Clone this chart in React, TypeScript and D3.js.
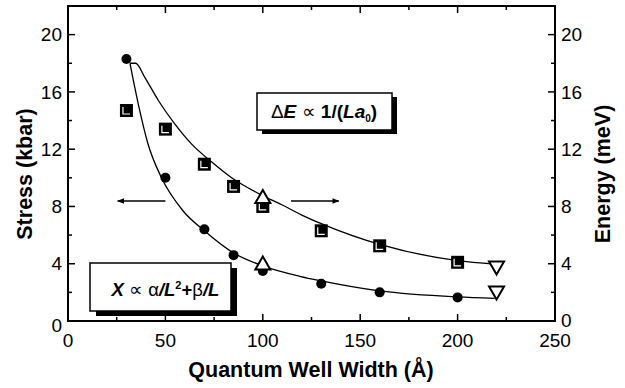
import React from "react";
import * as d3 from "d3";

// measured points (well width in Å)
const widths = [30, 50, 70, 85, 100, 130, 160, 200];
const stress = [18.3, 10.0, 6.4, 4.6, 3.5, 2.6, 2.0, 1.65];
const energy = [14.7, 13.4, 10.95, 9.4, 8.0, 6.3, 5.25, 4.1];

// open triangles
const triUpX = [100, 100];
const triUpY = [8.7, 4.05];
const triDownX = [220, 220];
const triDownY = [3.7, 1.95];

// fitted curves
const lowerFitX = [31.8, 36, 41, 48, 59, 70, 85, 100, 119, 130, 160, 200, 219];
const lowerFitY = [18.0, 15.2, 12.4, 10.0, 7.7, 6.3, 4.75, 3.85, 3.12, 2.8, 2.1, 1.68, 1.58];
const upperFitX = [31.8, 34.7, 39.5, 46.4, 54.9, 63.5, 73.8, 84, 100, 110, 120, 130, 160, 200, 219];
const upperFitY = [18.0, 18.0, 17.0, 15.4, 13.75, 12.35, 11.1, 10.0, 8.75, 8.1, 7.4, 6.8, 5.35, 4.22, 3.98];

const xMajor = [0, 50, 100, 150, 200, 250];
const yMajor = [0, 4, 8, 12, 16, 20];

const W = 625;
const H = 388;
const FONT = "'Liberation Sans', Arial, sans-serif";

export default function App() {
  const x = d3.scaleLinear().domain([0, 250]).range([68, 555]);
  const y = d3.scaleLinear().domain([0, 22]).range([321, 6]);
  const [x0, x1] = x.range();
  const [y0, y1] = y.range();

  const xMinor = d3.range(0, 251, 25);
  const yMinor = d3.range(0, 22.1, 2);

  const line = d3
    .line<[number, number]>()
    .x((d) => x(d[0]))
    .y((d) => y(d[1]))
    .curve(d3.curveMonotoneX);

  const lower = line(lowerFitX.map((v, i) => [v, lowerFitY[i]]) as [number, number][]);
  const upper = line(upperFitX.map((v, i) => [v, upperFitY[i]]) as [number, number][]);

  const tri = (cx: number, cy: number, up: boolean) => {
    const s = 7.5;
    const h = 6.5;
    return up
      ? `M${cx},${cy - h} L${cx + s},${cy + h} L${cx - s},${cy + h} Z`
      : `M${cx},${cy + h} L${cx + s},${cy - h} L${cx - s},${cy - h} Z`;
  };

  const arrowY = 201;

  return (
    <svg
      width={W}
      height={H}
      style={{ position: "absolute", left: 0, top: 0, background: "#fff" }}
      fontFamily={FONT}
    >
      <defs>
        <marker id="ah" viewBox="0 0 10 10" refX="9" refY="5" markerWidth="10" markerHeight="7" orient="auto-start-reverse" markerUnits="userSpaceOnUse">
          <path d="M0,1 L10,5 L0,9 Z" fill="#000" />
        </marker>
      </defs>

      {/* frame */}
      <rect x={x0} y={y1} width={x1 - x0} height={y0 - y1} fill="none" stroke="#000" strokeWidth={2} />

      {/* x ticks, bottom and top, inward */}
      {xMinor.map((v) => {
        const len = v % 50 === 0 ? 7 : 4;
        return (
          <g key={"xt" + v} stroke="#000" strokeWidth={1.5}>
            <line x1={x(v)} x2={x(v)} y1={y0} y2={y0 - len} />
            <line x1={x(v)} x2={x(v)} y1={y1} y2={y1 + len} />
          </g>
        );
      })}
      {/* y ticks, left and right, inward */}
      {yMinor.map((v) => {
        const len = v % 4 === 0 ? 7 : 4;
        return (
          <g key={"yt" + v} stroke="#000" strokeWidth={1.5}>
            <line x1={x0} x2={x0 + len} y1={y(v)} y2={y(v)} />
            <line x1={x1} x2={x1 - len} y1={y(v)} y2={y(v)} />
          </g>
        );
      })}

      {/* tick labels */}
      <g fontSize={19} fill="#000">
        {xMajor.map((v) => (
          <text key={"xl" + v} x={x(v)} y={347} textAnchor="middle">
            {v}
          </text>
        ))}
        {yMajor.map((v) => (
          <text key={"yl" + v} x={x0 - 6} y={y(v) + (v === 0 ? 4 : 0)} dy="0.35em" textAnchor="end">
            {v}
          </text>
        ))}
        {yMajor.map((v) => (
          <text key={"yr" + v} x={x1 + 6} y={y(v) + (v === 0 ? -1 : 0)} dy="0.35em" textAnchor="start">
            {v}
          </text>
        ))}
      </g>

      {/* axis titles */}
      <g fontSize={21.5} fontWeight="bold" fill="#000">
        <text x={311} y={377} textAnchor="middle">
          Quantum Well Width (Å)
        </text>
        <text transform="translate(32,174) rotate(-90)" textAnchor="middle">
          Stress (kbar)
        </text>
        <text transform="translate(610,174) rotate(-90)" textAnchor="middle">
          Energy (meV)
        </text>
      </g>

      {/* fitted curves */}
      <path d={lower ?? ""} fill="none" stroke="#000" strokeWidth={1.3} />
      <path d={upper ?? ""} fill="none" stroke="#000" strokeWidth={1.3} />

      {/* arrows */}
      <line x1={x(50)} x2={x(25.5)} y1={arrowY} y2={arrowY} stroke="#000" strokeWidth={1.5} markerEnd="url(#ah)" />
      <line x1={x(114.5)} x2={x(139)} y1={arrowY} y2={arrowY} stroke="#000" strokeWidth={1.5} markerEnd="url(#ah)" />

      {/* stress points */}
      {widths.map((v, i) => (
        <circle key={"c" + i} cx={x(v)} cy={y(stress[i])} r={5} fill="#000" />
      ))}

      {/* energy points */}
      {widths.map((v, i) => {
        const cx = x(v);
        const cy = y(energy[i]);
        return (
          <g key={"s" + i}>
            <rect x={cx - 6.5} y={cy - 6.5} width={13} height={13} fill="#000" />
            <path
              d={`M${cx - 3.5},${cy - 3.5} V${cy + 3.5} H${cx + 3.5}`}
              fill="none"
              stroke="#fff"
              strokeWidth={1.2}
            />
          </g>
        );
      })}

      {/* open triangles */}
      {triUpX.map((v, i) => (
        <path key={"tu" + i} d={tri(x(v), y(triUpY[i]), true)} fill="#fff" stroke="#000" strokeWidth={2} strokeLinejoin="miter" />
      ))}
      {triDownX.map((v, i) => (
        <path key={"td" + i} d={tri(x(v), y(triDownY[i]), false)} fill="#fff" stroke="#000" strokeWidth={2} strokeLinejoin="miter" />
      ))}

      {/* annotation: energy */}
      <rect x={262} y={97} width={135} height={37} fill="#000" />
      <rect x={257} y={93} width={135} height={37} fill="#fff" stroke="#000" strokeWidth={1.5} />
      <text x={324} y={118} fontSize={19} textAnchor="middle" fill="#000">
        <tspan>Δ</tspan>
        <tspan fontWeight="bold" fontStyle="italic">E</tspan>
        <tspan> ∝ </tspan>
        <tspan fontWeight="bold">1/(</tspan>
        <tspan fontWeight="bold" fontStyle="italic">La</tspan>
        <tspan fontWeight="bold" fontSize={10} dy={4}>0</tspan>
        <tspan fontWeight="bold" dy={-4}>)</tspan>
      </text>

      {/* annotation: stress */}
      <rect x={96} y={268} width={141} height={48} fill="#000" />
      <rect x={90} y={263} width={141} height={48} fill="#fff" stroke="#000" strokeWidth={1.5} />
      <text x={165.5} y={296} fontSize={18.5} textAnchor="middle" fill="#000">
        <tspan fontWeight="bold" fontStyle="italic">X</tspan>
        <tspan> ∝ α</tspan>
        <tspan fontWeight="bold" fontStyle="italic">/L</tspan>
        <tspan fontWeight="bold" fontSize={11} dy={-7}>2</tspan>
        <tspan fontWeight="bold" dy={7}>+</tspan>
        <tspan>β</tspan>
        <tspan fontWeight="bold" fontStyle="italic">/L</tspan>
      </text>
    </svg>
  );
}
